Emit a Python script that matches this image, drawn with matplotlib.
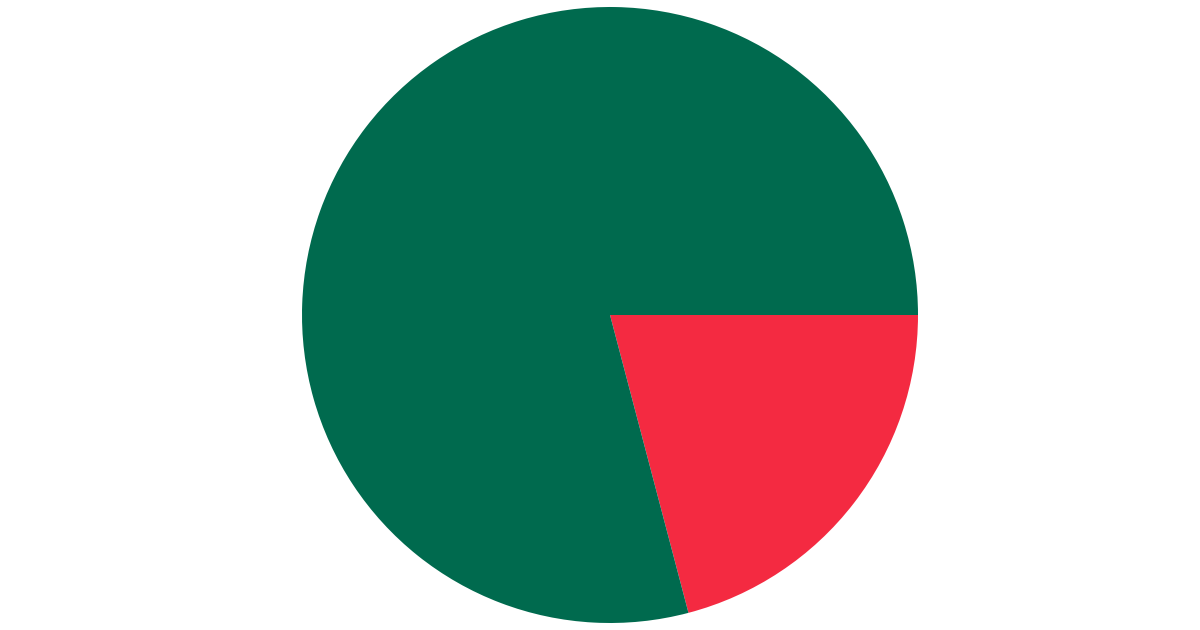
import matplotlib
matplotlib.use("Agg")
import matplotlib.pyplot as plt

labels = ["Red", "Green"]
values = [20.9, 79.1]
colors = ["#F42A41", "#006A4E"]

fig = plt.figure(figsize=(12, 6.3), dpi=100)
ax = fig.add_axes([0, 0, 1, 1])
ax.pie(values, colors=colors, startangle=0, counterclock=False, radius=1.0,
       wedgeprops=dict(linewidth=0))
r = 308.0
ax.set_xlim(-610 / r, 590 / r)
ax.set_ylim(-315 / r, 315 / r)
ax.set_aspect("auto")
ax.axis("off")
fig.savefig("out.png", dpi=100, facecolor="white")
